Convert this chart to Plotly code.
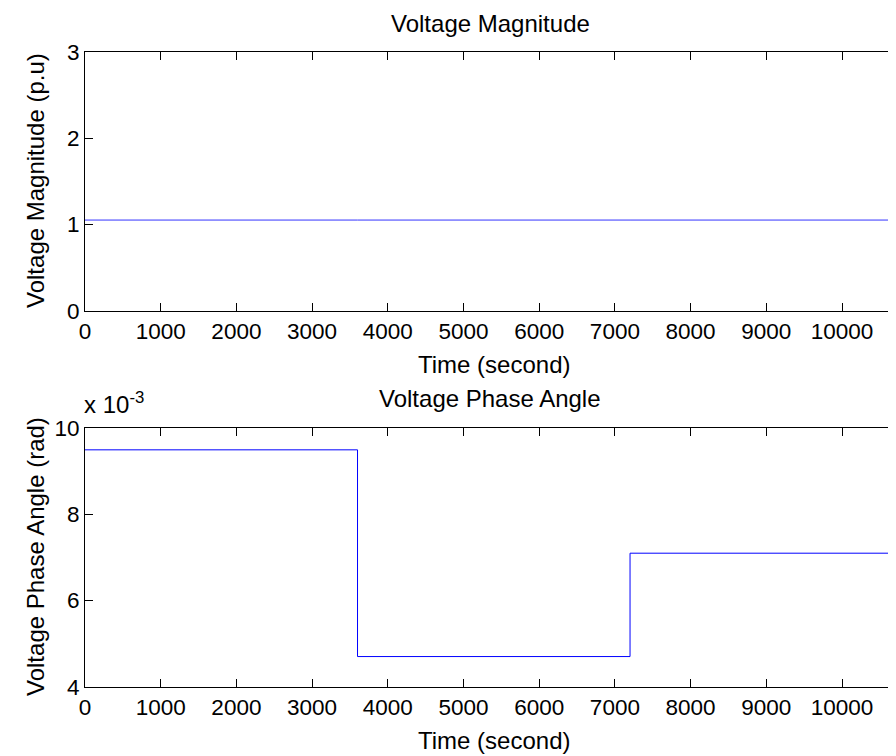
import plotly.graph_objects as go

# Data
time_s = [0, 3600, 7200, 10800]
magnitude_pu = [1.05, 1.05, 1.05, 1.05]
phase_rad = [9.5e-3, 4.7e-3, 7.1e-3, 7.1e-3]

x_ticks = [0, 1000, 2000, 3000, 4000, 5000, 6000, 7000, 8000, 9000, 10000]
x_tick_text = ["0", "1000", "2000", "3000", "4000", "5000", "6000", "7000", "8000", "9000", "10000"]
mag_ticks = [0, 1, 2, 3]
phase_ticks = [4e-3, 6e-3, 8e-3, 10e-3]
phase_tick_text = ["4", "6", "8", "10"]

FONT = "Liberation Sans, Arial, sans-serif"
FS_TICK = 22.5
FS_LAB = 24
W, H = 896, 756
OFF = 8  # page body margin offset

def fx(px):  # page x -> paper fraction
    return (px - OFF) / W

def fy(py):  # page y -> paper fraction
    return 1 - (py - OFF) / H

fig = go.Figure()
fig.add_trace(go.Scatter(x=time_s, y=magnitude_pu, mode="lines", line=dict(color="#3333ff", width=1),
                         line_shape="hv", xaxis="x", yaxis="y", showlegend=False))
fig.add_trace(go.Scatter(x=time_s, y=phase_rad, mode="lines", line=dict(color="#0000ff", width=1),
                         line_shape="hv", xaxis="x2", yaxis="y2", showlegend=False))

x0_px, x10k_px = 85.0, 842.0
px_per_unit = (x10k_px - x0_px) / 10000
x_right_px = W + OFF
x_max = (x_right_px - x0_px) / px_per_unit

top1, bot1 = 51.7, 310.7
top2, bot2 = 428.3, 686.7

common_x = dict(range=[0, x_max], tickvals=x_ticks, ticktext=x_tick_text, ticks="inside", ticklen=8,
                tickcolor="black", showline=True, linecolor="black", linewidth=1, mirror="ticks",
                showgrid=False, zeroline=False, automargin=False,
                tickfont=dict(size=FS_TICK, color="black", family=FONT),
                ticklabelstandoff=0, domain=[fx(x0_px), 1])
common_y = dict(ticks="inside", ticklen=8, tickcolor="black", showline=True, linecolor="black",
                linewidth=1, showgrid=False, zeroline=False, automargin=False,
                tickfont=dict(size=FS_TICK, color="black", family=FONT), ticklabelstandoff=0)

fig.update_layout(
    width=W, height=H, margin=dict(l=0, r=0, t=0, b=0, autoexpand=False),
    paper_bgcolor="white", plot_bgcolor="white",
    font=dict(family=FONT, size=FS_LAB, color="black"),
    xaxis=dict(**common_x, anchor="y"),
    yaxis=dict(**common_y, range=[0, 3], tickvals=mag_ticks, anchor="x",
               domain=[fy(bot1), fy(top1)]),
    xaxis2=dict(**common_x, anchor="y2"),
    yaxis2=dict(**common_y, range=[4e-3, 10e-3], tickvals=phase_ticks, ticktext=phase_tick_text,
                anchor="x2", domain=[fy(bot2), fy(top2)]),
)

def ann(text, x, y, angle=0, xanchor="center", size=FS_LAB):
    fig.add_annotation(text=text, x=fx(x), y=fy(y), xref="paper", yref="paper",
                       showarrow=False, textangle=angle, xanchor=xanchor, yanchor="middle",
                       font=dict(size=size, family=FONT, color="black"))

ann("Voltage Magnitude", 490, 23)
ann("Time (second)", 494, 364)
ann("Voltage Magnitude (p.u)", 35, 181, angle=-90)
ann("Voltage Phase Angle", 490, 398)
ann("Time (second)", 494, 740)
ann("Voltage Phase Angle (rad)", 35, 557, angle=-90)
ann("x 10<sup>-3</sup>", 82, 403, xanchor="left")

fig.write_html("out.html")
